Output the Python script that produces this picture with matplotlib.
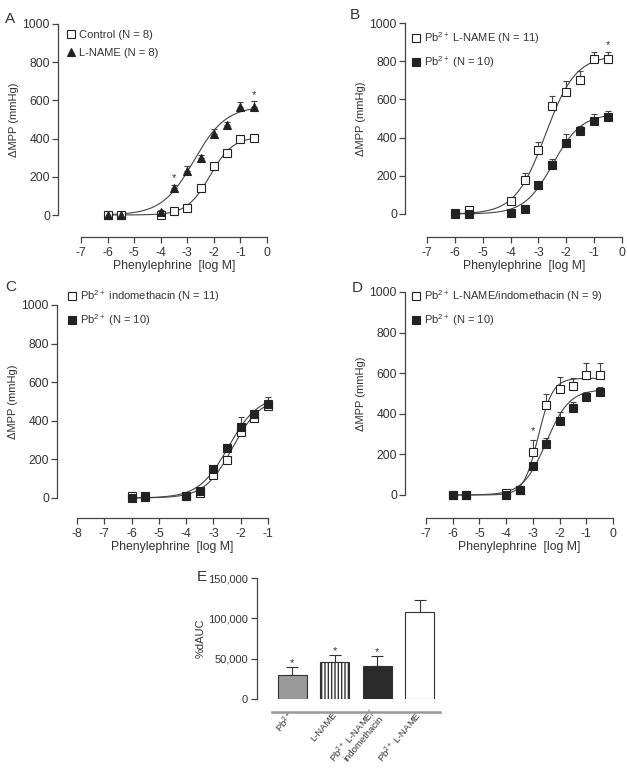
import numpy as np
import matplotlib.pyplot as plt

plt.rcParams['font.family'] = ['Liberation Sans', 'DejaVu Sans']
plt.rcParams['mathtext.fontset'] = 'custom'
plt.rcParams['mathtext.rm'] = 'Liberation Sans'
plt.rcParams['mathtext.it'] = 'Liberation Sans'

TXT = '#333333'
LN = '#444444'

# ---- data ----
# A
conc_a = [-6, -5.5, -4, -3.5, -3, -2.5, -2, -1.5, -1, -0.5]
control = [0, 0, 0, 22, 38, 140, 258, 322, 400, 402]
control_err = [5, 5, 5, 12, 10, 15, 15, 15, 10, 10]
lname = [0, 0, 18, 142, 230, 298, 425, 472, 565, 565]
lname_err = [5, 5, 10, 15, 28, 15, 25, 15, 28, 30]
fit_control = [410, -2.15, 1.0]   # top, logEC50, hill
fit_lname = [570, -2.75, 0.72]
stars_a = [(-3.5, 195), (-0.5, 628)]

# B
conc_b = [-6, -5.5, -4, -3.5, -3, -2.5, -2, -1.5, -1, -0.5]
pb_lname = [5, 22, 66, 180, 335, 565, 640, 702, 812, 812]
pb_lname_err = [5, 5, 8, 35, 42, 55, 55, 45, 35, 35]
pb_b = [0, 0, 5, 28, 150, 255, 372, 432, 485, 508]
pb_b_err = [5, 5, 5, 8, 10, 35, 45, 30, 38, 32]
fit_pb_lname = [830, -2.75, 0.8]
fit_pb_b = [525, -2.48, 0.85]
stars_b = [(-0.5, 885)]

# C
conc_c = [-6, -5.5, -4, -3.5, -3, -2.5, -2, -1.5, -1]
pb_indo = [10, 8, 12, 25, 117, 198, 340, 415, 478]
pb_indo_err = [5, 5, 5, 8, 12, 20, 20, 20, 30]
pb_c = [0, 5, 10, 35, 150, 258, 370, 436, 488]
pb_c_err = [5, 5, 5, 10, 12, 20, 48, 20, 34]
fit_pb_indo = [520, -2.3, 0.85]
fit_pb_c = [530, -2.45, 0.8]

# D
conc_d = [-6, -5.5, -4, -3.5, -3, -2.5, -2, -1.5, -1, -0.5]
pb_ln_indo = [0, 0, 12, 25, 214, 444, 523, 535, 592, 592]
pb_ln_indo_err = [5, 5, 5, 8, 57, 53, 58, 41, 58, 58]
pb_d = [0, 0, 0, 25, 145, 252, 365, 428, 482, 505]
pb_d_err = [5, 5, 5, 8, 12, 28, 46, 30, 23, 26]
fit_pb_ln_indo = [575, -2.8, 1.6]
fit_pb_d = [520, -2.5, 1.0]
stars_d = [(-3, 315)]

# E
groups = ['Pb$^{2+}$', 'L-NAME', 'Pb$^{2+}$ L-NAME/\nindomethacin', 'Pb$^{2+}$ L-NAME']
dauc = [29750, 45400, 41300, 108200]
dauc_err = [10000, 9600, 12000, 14200]
bar_colors = ['#9a9a9a', 'white', '#2a2a2a', 'white']
bar_hatch = ['', '|||||', '', '']
stars_e = [0, 1, 2]

W, H = 627, 772
fig = plt.figure(figsize=(W / 100, H / 100), dpi=100)


def px_axes(x0, x1, ytop, ybot):
    # axes from pixel box (data area)
    return fig.add_axes([x0 / W, 1 - ybot / H, (x1 - x0) / W, (ybot - ytop) / H])


def hill(p, x):
    top, ec50, h = p
    return top / (1 + 10 ** ((ec50 - x) * h))


def style_axes(ax, xlim, ylim, xticks, yticks, off_left, off_bottom):
    ax.set_xlim(*xlim)
    ax.set_ylim(*ylim)
    ax.spines['top'].set_visible(False)
    ax.spines['right'].set_visible(False)
    for s in ['left', 'bottom']:
        ax.spines[s].set_color(LN)
        ax.spines[s].set_linewidth(0.9)
    ax.spines['left'].set_position(('outward', off_left * 0.72))
    ax.spines['bottom'].set_position(('outward', off_bottom * 0.72))
    ax.set_xticks(xticks)
    ax.set_yticks(yticks)
    ax.set_xticklabels([str(t) for t in xticks])
    ax.tick_params(colors=LN, labelcolor=TXT, labelsize=8.8, length=4.3, width=0.9, pad=1.5)
    ax.tick_params(axis='x', pad=3)
    ax.set_facecolor('none')


def series(ax, x, y, err, marker, face, fit, ms=6):
    ax.errorbar(x, y, yerr=[np.zeros(len(err)), err], fmt='none', ecolor=LN,
                elinewidth=0.8, capsize=2.5, capthick=0.8, clip_on=False, zorder=2)
    xs = np.linspace(min(x), max(x), 200)
    ax.plot(xs, hill(fit, xs), color=LN, lw=0.8, zorder=1, clip_on=False)
    h, = ax.plot(x, y, linestyle='none', marker=marker, ms=ms, mfc=face, mec='#222222',
                 mew=0.8, clip_on=False, zorder=3)
    return h


def dose_panel(ax, xlim, xticks, sets, leg_labels, leg_pos, stars, letter, letter_pos, offs):
    style_axes(ax, xlim, (0, 1000), xticks, [0, 200, 400, 600, 800, 1000], *offs)
    handles = []
    for s in sets:
        handles.append(series(ax, *s))
    for sx, sy in stars:
        ax.text(sx, sy, '*', ha='center', va='center', fontsize=8, color=TXT)
    ax.set_xlabel('Phenylephrine  [log M]', fontsize=8.8, color=TXT, labelpad=0.5)
    ax.set_ylabel('ΔMPP (mmHg)', fontsize=8, color=TXT, labelpad=2.5)
    ax.legend(handles, leg_labels, loc='upper left', bbox_to_anchor=(leg_pos[0] / W, 1 - leg_pos[1] / H),
              bbox_transform=fig.transFigure, frameon=False, borderaxespad=0, borderpad=0,
              handlelength=0.6, handletextpad=0.4, labelspacing=0.75, fontsize=8, labelcolor=TXT)
    fig.text(letter_pos[0] / W, 1 - letter_pos[1] / H, letter, fontsize=11, color=TXT,
             ha='left', va='center')


# A
ax_a = px_axes(81, 267, 24, 215)
dose_panel(ax_a, (-7, 0), [-7, -6, -5, -4, -3, -2, -1, 0],
           [(conc_a, control, control_err, 's', 'white', fit_control),
            (conc_a, lname, lname_err, '^', '#222222', fit_lname, 6)],
           ['Control (N = 8)', 'L-NAME (N = 8)'], (68, 30), stars_a, 'A', (5, 19), (23, 22))

# B
ax_b = px_axes(427, 622, 23, 214)
dose_panel(ax_b, (-7, 0), [-7, -6, -5, -4, -3, -2, -1, 0],
           [(conc_b, pb_lname, pb_lname_err, 's', 'white', fit_pb_lname),
            (conc_b, pb_b, pb_b_err, 's', '#222222', fit_pb_b)],
           ['Pb$^{2+}$ L-NAME (N = 11)', 'Pb$^{2+}$ (N = 10)'], (413, 30), stars_b, 'B', (350, 15), (22, 23))

# C
ax_c = px_axes(77, 268, 305, 498)
dose_panel(ax_c, (-8, -1), [-8, -7, -6, -5, -4, -3, -2, -1],
           [(conc_c, pb_indo, pb_indo_err, 's', 'white', fit_pb_indo),
            (conc_c, pb_c, pb_c_err, 's', '#222222', fit_pb_c)],
           ['Pb$^{2+}$ indomethacin (N = 11)', 'Pb$^{2+}$ (N = 10)'], (69, 288), [], 'C', (5, 287), (20, 20))

# D
ax_d = px_axes(426, 613, 292, 495)
dose_panel(ax_d, (-7, 0), [-7, -6, -5, -4, -3, -2, -1, 0],
           [(conc_d, pb_ln_indo, pb_ln_indo_err, 's', 'white', fit_pb_ln_indo),
            (conc_d, pb_d, pb_d_err, 's', '#222222', fit_pb_d)],
           ['Pb$^{2+}$ L-NAME/indomethacin (N = 9)', 'Pb$^{2+}$ (N = 10)'], (413, 288), stars_d, 'D', (352, 288), (21, 23))

# E
ax_e = px_axes(272, 440, 578, 699)
xpos = np.arange(len(groups))
ax_e.bar(xpos, dauc, width=0.68, color=bar_colors, edgecolor='#333333', linewidth=0.8,
         hatch=bar_hatch, zorder=2)
ax_e.errorbar(xpos, dauc, yerr=[np.zeros(len(dauc_err)), dauc_err], fmt='none', ecolor='#333333',
              elinewidth=0.8, capsize=4, capthick=0.8, zorder=1)
for i in stars_e:
    ax_e.text(xpos[i], dauc[i] + dauc_err[i] + 5000, '*', ha='center', va='center', fontsize=8, color=TXT)
ax_e.set_xlim(-0.48, 3.48)
ax_e.set_ylim(0, 150000)
ax_e.spines['top'].set_visible(False)
ax_e.spines['right'].set_visible(False)
ax_e.spines['left'].set_color(LN)
ax_e.spines['left'].set_linewidth(0.9)
ax_e.spines['left'].set_position(('outward', 15 * 0.72))
ax_e.spines['bottom'].set_color('#999999')
ax_e.spines['bottom'].set_linewidth(1.8)
ax_e.spines['bottom'].set_position(('outward', 13 * 0.72))
ax_e.set_yticks([0, 50000, 100000, 150000])
ax_e.set_yticklabels(['0', '50,000', '100,000', '150,000'])
ax_e.set_xticks(xpos)
ax_e.set_xticklabels(groups, rotation=50, ha='right', va='center', rotation_mode='anchor',
                     fontsize=6.8, linespacing=0.9)
ax_e.tick_params(axis='x', length=0, pad=1, labelcolor=TXT)
ax_e.tick_params(axis='y', colors=LN, labelcolor=TXT, labelsize=8, length=4.3, width=0.9, pad=2)
ax_e.set_ylabel('%dAUC', fontsize=8, color=TXT, labelpad=2)
fig.text(197 / W, 1 - 577 / H, 'E', fontsize=11, color=TXT, ha='left', va='center')

fig.savefig('out.png', dpi=100)
